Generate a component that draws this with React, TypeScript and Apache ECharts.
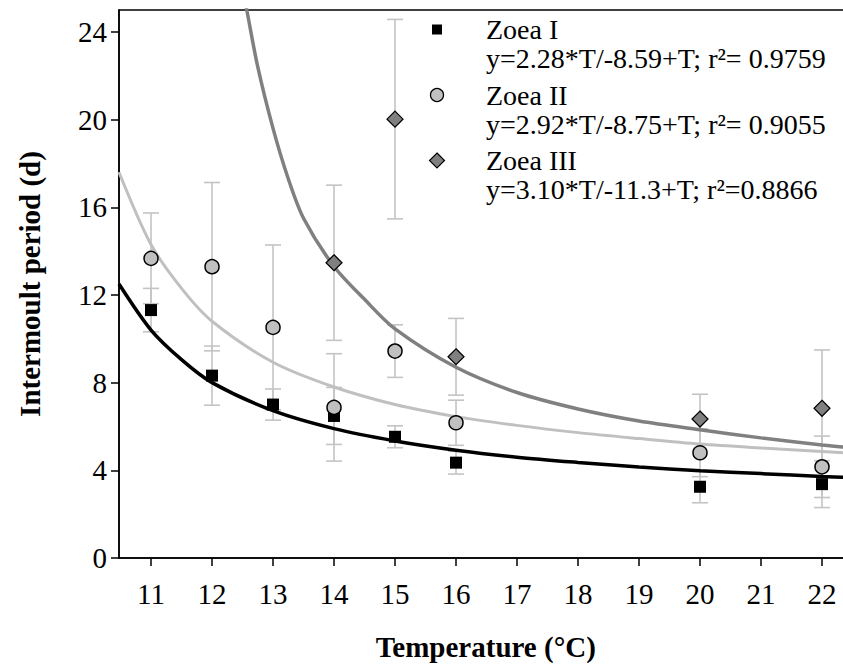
import React, { useEffect, useRef } from "react";
import * as echarts from "echarts";

// Observed data (mean and SD of intermoult period, days)
const temps = [11, 12, 13, 14, 15, 16, 20, 22];
const zoeaIMean = [11.31, 8.32, 7.0, 6.48, 5.53, 4.35, 3.25, 3.37];
const zoeaISd = [0.99, 1.35, 0.71, 1.3, 0.5, 0.52, 0.73, 1.07];
const zoeaIIMean = [13.67, 13.29, 10.52, 6.87, 9.44, 6.17, 4.8, 4.16];
const zoeaIISd = [2.07, 3.84, 3.76, 2.45, 1.2, 1.03, 1.09, 1.4];
const zoeaIIITemps = [14, 15, 16, 20, 22];
const zoeaIIIMean = [13.47, 20.02, 9.18, 6.34, 6.83];
const zoeaIIISd = [3.54, 4.55, 1.75, 1.13, 2.66];

// Fitted curves
const fitT = [10.475, 11, 11.5, 12, 13, 14, 15, 16, 17, 18, 19, 20, 21, 22, 22.5];
const fitI = [12.5, 10.4, 9.05, 8.0, 6.72, 5.9, 5.34, 4.92, 4.6, 4.36, 4.15, 3.98, 3.85, 3.72, 3.68];
const fitII = [17.6, 14.3, 12.3, 10.8, 8.93, 7.8, 7.0, 6.45, 6.05, 5.72, 5.45, 5.2, 5.02, 4.86, 4.78];
const fitIIIT = [12.5, 12.57, 12.75, 13, 13.25, 13.5, 14, 14.5, 15, 16, 17, 18, 19, 20, 21, 22, 22.5];
const fitIII = [26, 25.0, 22.4, 19.6, 17.3, 15.5, 13.3, 11.8, 10.45, 8.7, 7.55, 6.8, 6.25, 5.85, 5.48, 5.15, 5.02];

const xTicks = [11, 12, 13, 14, 15, 16, 17, 18, 19, 20, 21, 22];
const yTicks = [0, 4, 8, 12, 16, 20, 24];

const seriesNames = ["Zoea I", "Zoea II", "Zoea III"];
const equations = [
  "y=2.28*T/-8.59+T; r²= 0.9759",
  "y=2.92*T/-8.75+T; r²= 0.9055",
  "y=3.10*T/-11.3+T; r²=0.8866",
];

const FONT = "'Liberation Serif', 'Times New Roman', serif";
const C_I = "#000000";
const C_II = "#c0c0c0";
const C_III = "#808080";

function errData(ts: number[], m: number[], s: number[]) {
  return ts.map((t, i) => [t, m[i] - s[i], m[i] + s[i]]);
}

function errSeries(id: string, data: number[][]) {
  return {
    type: "custom",
    id,
    z: 1,
    silent: true,
    data,
    renderItem: (params: any, api: any) => {
      const x = api.value(0);
      const lo = api.coord([x, api.value(1)]);
      const hi = api.coord([x, api.value(2)]);
      const half = 8;
      const style = { stroke: "#c4c4c4", lineWidth: 1.6 };
      return {
        type: "group",
        children: [
          { type: "line", shape: { x1: lo[0], y1: lo[1], x2: hi[0], y2: hi[1] }, style },
          { type: "line", shape: { x1: hi[0] - half, y1: hi[1], x2: hi[0] + half, y2: hi[1] }, style },
          { type: "line", shape: { x1: lo[0] - half, y1: lo[1], x2: lo[0] + half, y2: lo[1] }, style },
        ],
      };
    },
  };
}

function fitSeries(id: string, ts: number[], vs: number[], color: string, width: number) {
  return {
    type: "line",
    id,
    z: 2,
    data: ts.map((t, i) => [t, vs[i]]),
    showSymbol: false,
    smooth: 0.3,
    lineStyle: { color, width },
    silent: true,
  };
}

export default function App() {
  const ref = useRef<HTMLDivElement>(null);
  useEffect(() => {
    if (!ref.current) return;
    document.body.style.margin = "0";
    document.body.style.overflow = "hidden";
    const chart = echarts.init(ref.current, null, { renderer: "svg" });

    const legendX = 437;
    const legendTop = 15;
    const lineH = 29;
    const legendStep = 65.5;
    const c0 = legendTop + lineH / 2;
    const legendIcons: any[] = [
      {
        type: "rect",
        shape: { x: legendX - 5, y: c0 - 5, width: 10, height: 10 },
        style: { fill: C_I },
      },
      {
        type: "circle",
        shape: { cx: legendX, cy: c0 + legendStep, r: 6.5 },
        style: { fill: C_II, stroke: "#000", lineWidth: 1.3 },
      },
      {
        type: "polygon",
        shape: {
          points: [
            [legendX, c0 + 2 * legendStep - 7.5],
            [legendX + 7.5, c0 + 2 * legendStep],
            [legendX, c0 + 2 * legendStep + 7.5],
            [legendX - 7.5, c0 + 2 * legendStep],
          ],
        },
        style: { fill: C_III, stroke: "#000", lineWidth: 1.2 },
      },
    ];
    const legendTexts: any[] = seriesNames.map((n, i) => ({
      type: "text",
      x: 486,
      y: legendTop + i * legendStep,
      silent: true,
      style: {
        text: `${n}\n${equations[i]}`,
        font: `28px ${FONT}`,
        fill: "#000",
        verticalAlign: "top",
        lineHeight: lineH,
      },
    }));

    const option: any = {
      animation: false,
      backgroundColor: "#ffffff",
      grid: {
        left: 119,
        top: 10,
        width: 733.5,
        height: 548,
        show: true,
        borderColor: "#000",
        borderWidth: 1.5,
        backgroundColor: "transparent",
        outerBoundsMode: "none",
      },
      xAxis: {
        type: "value",
        min: 10.475,
        max: 22.5,
        name: "Temperature (°C)",
        nameLocation: "middle",
        nameGap: 74,
        nameTextStyle: { fontFamily: FONT, fontSize: 29, fontWeight: "bold", color: "#000" },
        axisLine: { show: true, lineStyle: { color: "#000", width: 1.5 } },
        axisTick: { show: true, inside: false, length: 8, lineStyle: { color: "#000", width: 1.5 }, customValues: xTicks },
        axisLabel: { fontFamily: FONT, fontSize: 29, color: "#000", margin: 21, customValues: xTicks },
        splitLine: { show: false },
      },
      yAxis: {
        type: "value",
        min: 0,
        max: 25,
        name: "Intermoult period (d)",
        nameLocation: "middle",
        nameGap: 75,
        nameTextStyle: { fontFamily: FONT, fontSize: 29, fontWeight: "bold", color: "#000" },
        axisLine: { show: true, lineStyle: { color: "#000", width: 1.5 } },
        axisTick: { show: true, inside: false, length: 8, lineStyle: { color: "#000", width: 1.5 }, customValues: yTicks },
        axisLabel: { fontFamily: FONT, fontSize: 29, color: "#000", margin: 12, customValues: yTicks },
        splitLine: { show: false },
      },
      graphic: [...legendIcons, ...legendTexts],
      series: [
        errSeries("errI", errData(temps, zoeaIMean, zoeaISd)),
        errSeries("errII", errData(temps, zoeaIIMean, zoeaIISd)),
        errSeries("errIII", errData(zoeaIIITemps, zoeaIIIMean, zoeaIIISd)),
        fitSeries("fitII", fitT, fitII, C_II, 3),
        fitSeries("fitIII", fitIIIT, fitIII, C_III, 3.5),
        fitSeries("fitI", fitT, fitI, C_I, 3.5),
        {
          type: "scatter",
          name: "Zoea I",
          z: 3,
          symbol: "rect",
          symbolSize: 12,
          itemStyle: { color: C_I, borderColor: "#000", borderWidth: 0, opacity: 1 },
          data: temps.map((t, i) => [t, zoeaIMean[i]]),
        },
        {
          type: "scatter",
          name: "Zoea II",
          z: 3,
          symbol: "circle",
          symbolSize: 14,
          itemStyle: { color: C_II, borderColor: "#000", borderWidth: 1.5, opacity: 1 },
          data: temps.map((t, i) => [t, zoeaIIMean[i]]),
        },
        {
          type: "scatter",
          name: "Zoea III",
          z: 3,
          symbol: "diamond",
          symbolSize: 16,
          itemStyle: { color: C_III, borderColor: "#000", borderWidth: 1.2, opacity: 1 },
          data: zoeaIIITemps.map((t, i) => [t, zoeaIIIMean[i]]),
        },
      ],
    };
    chart.setOption(option);
    return () => chart.dispose();
  }, []);
  return (
    <div
      ref={ref}
      style={{ position: "fixed", left: 0, top: 0, width: 860, height: 668 }}
    />
  );
}
